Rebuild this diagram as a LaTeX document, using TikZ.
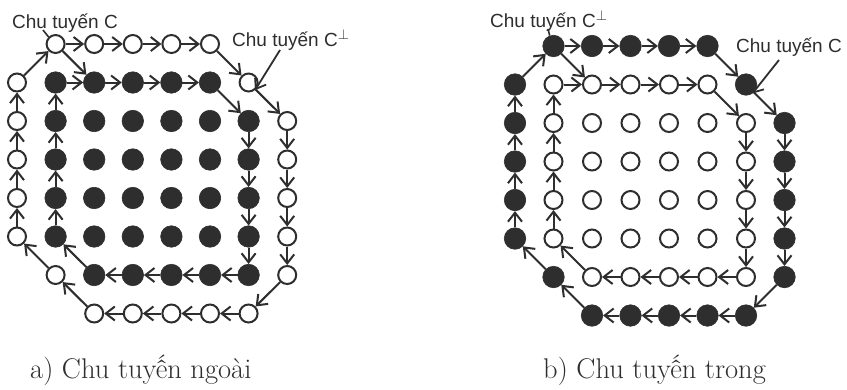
\documentclass[tikz,border=0pt]{standalone}
\usepackage{fontspec}
\newfontfamily\labfont{Liberation Sans}
\usetikzlibrary{arrows.meta,calc}
\definecolor{ink}{gray}{0.18}
\begin{document}
\begin{tikzpicture}[x=1pt,y=-1pt,
  wdot/.style={circle,draw=ink,line width=2pt,fill=white,minimum size=18pt,inner sep=0pt},
  bdot/.style={circle,fill=ink,draw=ink,line width=0.6pt,minimum size=21.5pt,inner sep=0pt},
  link/.style={draw=ink,line width=2pt,-{Straight Barb[length=9pt,width=14pt,line width=2pt]}},
  ptr/.style={draw=ink,line width=1.8pt,-{Straight Barb[length=9pt,width=13pt,line width=1.8pt]}},
  tickline/.style={draw=ink,line width=1.6pt},
  lab/.style={font=\labfont\fontsize{19}{19}\selectfont,text=ink,inner sep=0pt,anchor=base west},
  captext/.style={font=\fontsize{28.5}{28.5}\selectfont,text=ink,inner sep=0pt,anchor=base west}]
\fill[white] (0,0) rectangle (847,389);
\useasboundingbox (0,0) rectangle (847,389);

% ---------- left diagram ----------
\foreach \i/\j in {1/0,2/0,3/0,4/0,5/0,6/1,7/2,7/3,7/4,7/5,7/6,6/7,5/7,4/7,3/7,2/7,1/6,0/5,0/4,0/3,0/2,0/1}
  \node[wdot] (L\i\j) at ({17+38.6*\i},{44+38.5*\j}) {};
\foreach \i/\j in {1/1,2/1,3/1,4/1,5/1,6/2,6/3,6/4,6/5,6/6,5/6,4/6,3/6,2/6,1/5,1/4,1/3,1/2}
  \node[bdot] (L\i\j) at ({17+38.6*\i},{44+38.5*\j}) {};
\foreach \i in {2,...,5} \foreach \j in {2,...,5}
  \node[bdot] (L\i\j) at ({17+38.6*\i},{44+38.5*\j}) {};

% ---------- right diagram ----------
\foreach \i/\j in {1/0,2/0,3/0,4/0,5/0,6/1,7/2,7/3,7/4,7/5,7/6,6/7,5/7,4/7,3/7,2/7,1/6,0/5,0/4,0/3,0/2,0/1}
  \node[bdot] (R\i\j) at ({515+38.5*\i},{46+38.5*\j}) {};
\foreach \i/\j in {1/1,2/1,3/1,4/1,5/1,6/2,6/3,6/4,6/5,6/6,5/6,4/6,3/6,2/6,1/5,1/4,1/3,1/2}
  \node[wdot] (R\i\j) at ({515+38.5*\i},{46+38.5*\j}) {};
\foreach \i in {2,...,5} \foreach \j in {2,...,5}
  \node[wdot] (R\i\j) at ({515+38.5*\i},{46+38.5*\j}) {};

% ---------- contour arrows ----------
\foreach \p in {L,R}{
  \foreach \a/\b in {01/10,10/20,20/30,30/40,40/50,50/61,61/72,72/73,73/74,74/75,75/76,76/67,67/57,57/47,47/37,37/27,27/16,16/05,05/04,04/03,03/02,02/01,
                     11/21,21/31,31/41,41/51,51/62,62/63,63/64,64/65,65/66,66/56,56/46,46/36,36/26,26/15,15/14,14/13,13/12,12/11,
                     10/21}
    \draw[link] (\p\a) -- (\p\b);
}

% ---------- labels ----------
\node[lab] (tA) at (12,28) {Chu tuyến C};
\node[lab] (tB) at (232,46) {Chu tuyến C$^{\perp}$};
\node[lab] (tC) at (490,27) {Chu tuyến C$^{\perp}$};
\node[lab] (tD) at (736,52) {Chu tuyến C};

\coordinate (tkA) at (43,30);
\draw[tickline] (tkA) -- (L10.135);
\coordinate (tkC) at (548,29);
\draw[tickline] (tkC) -- (R10.110);
\coordinate (pB) at (280,50);
\draw[ptr] (pB) -- (L61.-50);
\coordinate (pD) at (779,60);
\draw[ptr] (pD) -- (R61.-55);

% ---------- captions ----------
\node[captext] (capA) at (30,378) {a) Chu tuyến ngoài};
\node[captext] (capB) at (543,378) {b) Chu tuyến trong};
\end{tikzpicture}
\end{document}
